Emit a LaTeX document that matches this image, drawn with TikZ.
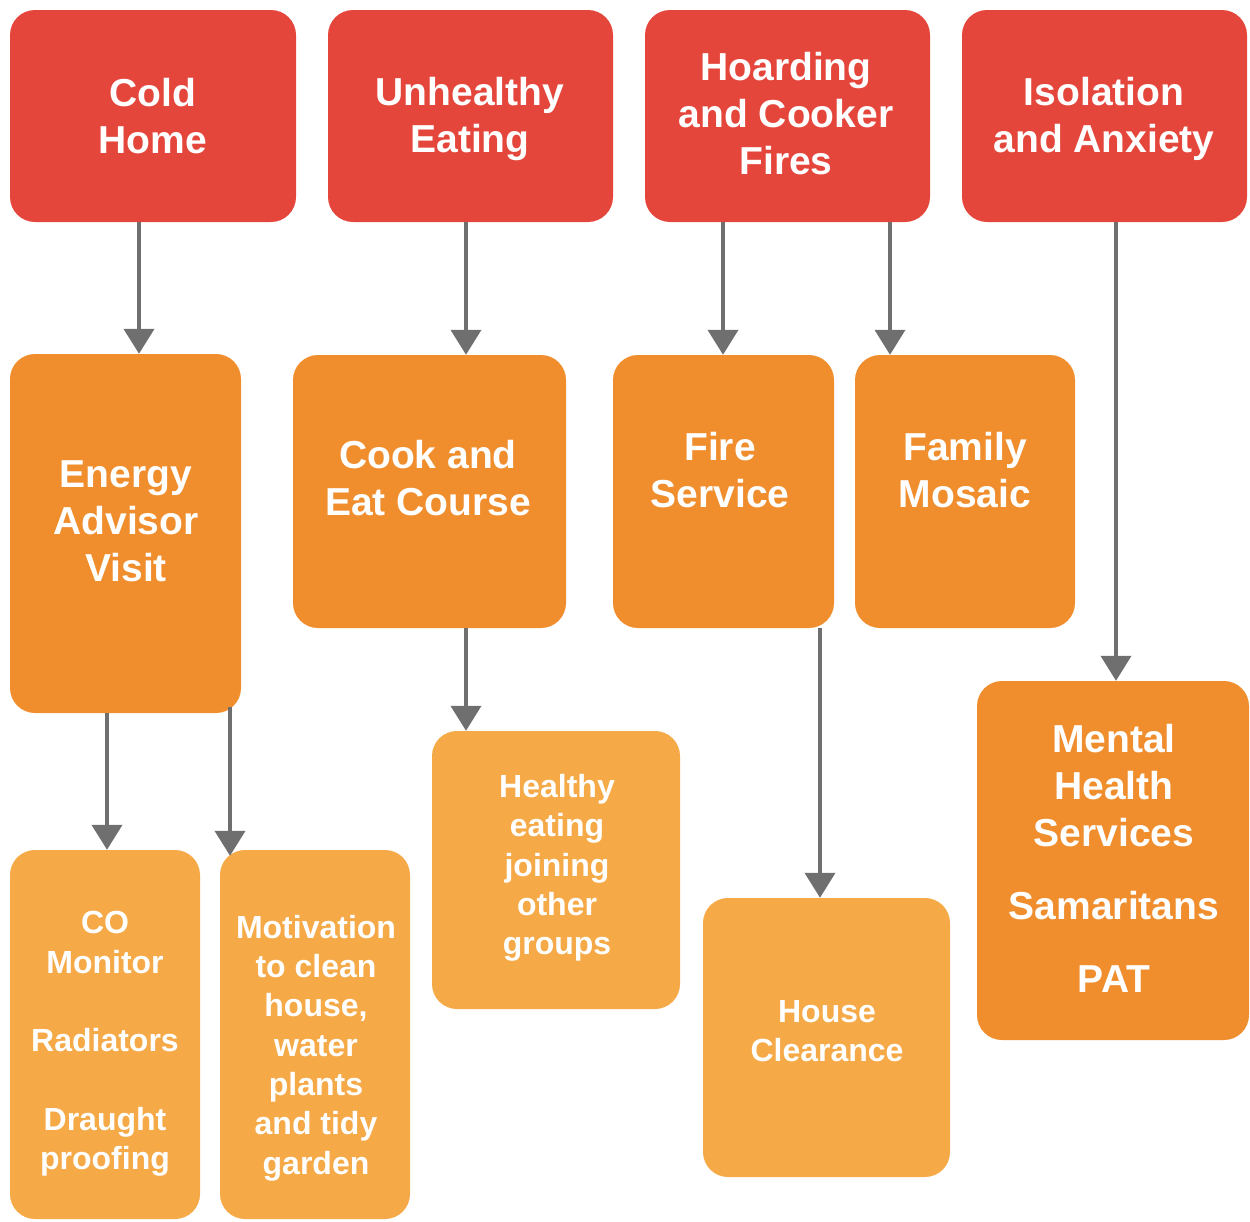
\documentclass[tikz,border=0pt]{standalone}
\usepackage{fontspec}
\setmainfont{Liberation Sans}
\usetikzlibrary{arrows.meta}
\definecolor{cred}{HTML}{E5463C}
\definecolor{corange}{HTML}{F08E2E}
\definecolor{clight}{HTML}{F5A947}
\definecolor{carrow}{HTML}{6F6F6F}
\begin{document}
\begin{tikzpicture}[x=1pt,y=-1pt,
  box/.style={rounded corners=25pt, inner sep=0pt, draw=none},
  redbox/.style={box, fill=cred},
  orbox/.style={box, fill=corange},
  ltbox/.style={box, fill=clight},
  big/.style={text=white, align=center, inner sep=0pt, font=\bfseries\fontsize{39}{47}\selectfont},
  small/.style={text=white, align=center, inner sep=0pt, font=\bfseries\fontsize{32}{39.3}\selectfont},
  arr/.style={draw=carrow, line width=4pt, -{Triangle[width=30pt,length=25pt]}}
]
\useasboundingbox (0,0) rectangle (1250,1221);
% boxes
\node[redbox, minimum width=286pt, minimum height=212pt] (r1) at (153,116) {};
\node[redbox, minimum width=285pt, minimum height=212pt] (r2) at (470.5,116) {};
\node[redbox, minimum width=285pt, minimum height=212pt] (r3) at (787.5,116) {};
\node[redbox, minimum width=285pt, minimum height=212pt] (r4) at (1104.5,116) {};
\node[orbox, minimum width=231pt, minimum height=359pt] (en) at (125.5,533.5) {};
\node[orbox, minimum width=273pt, minimum height=273pt] (ck) at (429.5,491.5) {};
\node[orbox, minimum width=221pt, minimum height=273pt] (fs) at (723.5,491.5) {};
\node[orbox, minimum width=220pt, minimum height=273pt] (fm) at (965,491.5) {};
\node[orbox, minimum width=272pt, minimum height=359pt] (mh) at (1113,860.5) {};
\node[ltbox, minimum width=248pt, minimum height=278pt] (he) at (556,870) {};
\node[ltbox, minimum width=247pt, minimum height=279pt] (hc) at (826.5,1037.5) {};
\node[ltbox, minimum width=190pt, minimum height=369pt] (co) at (105,1034.5) {};
\node[ltbox, minimum width=190pt, minimum height=369pt] (mo) at (315,1034.5) {};
% texts
\node[big] (t1) at (153,116) {Cold\\Home};
\node[big] (t2) at (470,119) {Unhealthy\\Eating};
\node[big] (t3) at (786,114) {Hoarding\\and Cooker\\Fires};
\node[big] (t4) at (1104,119) {Isolation\\and Anxiety};
\node[big] (t5) at (126,521) {Energy\\Advisor\\Visit};
\node[big] (t6) at (428,478) {Cook and\\Eat Course};
\node[big] (t7) at (720,470) {Fire\\Service};
\node[big] (t8) at (965,470) {Family\\Mosaic};
\node[big] (t9) at (1114,858) {Mental\\Health\\Services\\[26pt]Samaritans\\[26pt]PAT};
\node[small] (t10) at (557,868) {Healthy\\eating\\joining\\other\\groups};
\node[small] (t11) at (105,1044) {CO\\Monitor\\[39.3pt]Radiators\\[39.3pt]Draught\\proofing};
\node[small] (t12) at (316,1048) {Motivation\\to clean\\house,\\water\\plants\\and tidy\\garden};
\node[small] (t13) at (827,1031) {House\\Clearance};
% arrows
\draw[arr] ([xshift=-14pt]r1.south) -- ([xshift=-14pt]r1.south |- en.north);
\draw[arr] ([xshift=-4.5pt]r2.south) -- ([xshift=-4.5pt]r2.south |- ck.north);
\draw[arr] ([xshift=-64.5pt]r3.south) -- ([xshift=-64.5pt]r3.south |- fs.north);
\draw[arr] ([xshift=102.5pt]r3.south) -- ([xshift=102.5pt]r3.south |- fm.north);
\draw[arr] ([xshift=11.5pt]r4.south) -- ([xshift=11.5pt]r4.south |- mh.north);
\draw[arr] ([xshift=-18.5pt]en.south) -- ([xshift=-18.5pt]en.south |- co.north);
\draw[arr] ([xshift=104.5pt,yshift=6pt]en.south) -- ([xshift=104.5pt,yshift=-6pt]en.south |- mo.north);
\draw[arr] ([xshift=36.5pt]ck.south) -- ([xshift=36.5pt]ck.south |- he.north);
\draw[arr] ([xshift=96.5pt]fs.south) -- ([xshift=96.5pt]fs.south |- hc.north);
\end{tikzpicture}
\end{document}
